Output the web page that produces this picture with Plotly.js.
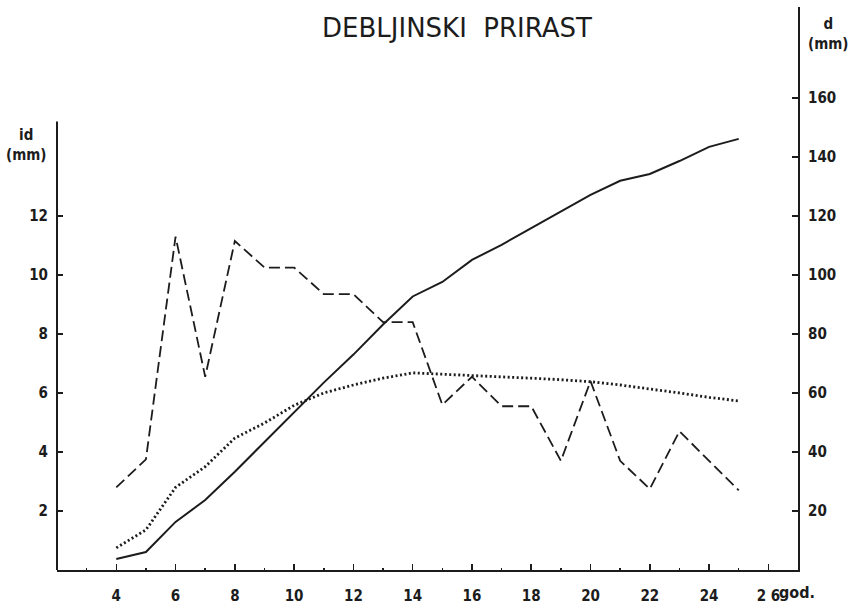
<!DOCTYPE html>
<html>
<head>
<meta charset="utf-8">
<script src="https://cdn.plot.ly/plotly-3.0.1.min.js"></script>
<style>html,body{margin:0;padding:0;background:#fff;}#chart{width:859px;height:608px;}</style>
</head>
<body>
<div id="chart"></div>
<script>
// Age (years)
const years = [4,5,6,7,8,9,10,11,12,13,14,15,16,17,18,19,20,21,22,23,24,25];
// Current diameter increment id (mm) - dashed, left axis
const currentIncrement = [2.8,3.75,11.3,6.55,11.15,10.25,10.25,9.35,9.35,8.4,8.4,5.6,6.55,5.55,5.55,3.7,6.4,3.7,2.75,4.7,3.7,2.7];
// Mean diameter increment id (mm) - dotted, left axis
const meanIncrement = [0.75,1.36,2.8,3.5,4.47,4.98,5.58,6.0,6.27,6.5,6.68,6.64,6.6,6.55,6.5,6.45,6.38,6.27,6.14,6.0,5.85,5.73];
// Diameter d (mm) - solid, right axis
const diameter = [3.7,6.1,16.3,23.7,33.3,43.4,53.4,63.5,73.0,83.2,92.7,97.6,105.1,110.2,115.9,121.4,127.1,131.9,134.2,138.6,143.4,146.1];
// Tick labels
const xTicks = [4,6,8,10,12,14,16,18,20,22,24,26];
const xTickText = ['4','6','8','10','12','14','16','18','20','22','24','2 6'];
const leftTicks = [2,4,6,8,10,12];
const rightTicks = [20,40,60,80,100,120,140,160];

const ink = '#1c1c1c';
const fam = 'DejaVu Sans Condensed, DejaVu Sans, sans-serif';
const tickFont = {family: fam, size: 15, color: ink, weight: 'bold'};

const traces = [
  {x: years, y: currentIncrement, type: 'scatter', mode: 'lines', yaxis: 'y',
   line: {color: ink, width: 1.8, dash: '11px,5px'}, hoverinfo: 'skip'},
  {x: years, y: meanIncrement, type: 'scatter', mode: 'lines', yaxis: 'y',
   line: {color: ink, width: 2.8, dash: '2px,2.5px'}, hoverinfo: 'skip'},
  {x: years, y: diameter, type: 'scatter', mode: 'lines', yaxis: 'y2',
   line: {color: ink, width: 2}, hoverinfo: 'skip'}
];

const layout = {
  width: 859, height: 608,
  margin: {l: 57, r: 61, t: 7, b: 38},
  paper_bgcolor: '#ffffff', plot_bgcolor: '#ffffff',
  showlegend: false,
  title: {text: 'DEBLJINSKI\u00a0\u00a0PRIRAST', x: 457/859, xref: 'container', xanchor: 'center',
          y: 1 - 28/608, yref: 'container', yanchor: 'middle',
          font: {family: 'DejaVu Sans, sans-serif', size: 26, color: ink}},
  xaxis: {range: [2, 27], tickvals: xTicks, ticktext: xTickText, ticks: 'inside', ticklen: 6, tickwidth: 1.5,
          tickcolor: ink, showline: true, linecolor: ink, linewidth: 2, showgrid: false, zeroline: false,
          tickfont: tickFont, ticklabelstandoff: 11,
          minor: {dtick: 1, tick0: 0, ticks: 'inside', ticklen: 2.5, tickwidth: 1.5, tickcolor: ink, showgrid: false}},
  yaxis: {range: [0, 19.08], tickvals: leftTicks, ticks: 'inside', ticklen: 6, tickwidth: 1.5, tickcolor: ink,
          showline: false, showgrid: false, zeroline: false, tickfont: tickFont, ticklabelstandoff: 8},
  yaxis2: {range: [0, 190.8], tickvals: rightTicks, overlaying: 'y', side: 'right', ticks: 'inside', ticklen: 6,
           tickwidth: 1.5, tickcolor: ink, showline: true, linecolor: ink, linewidth: 2, showgrid: false,
           zeroline: false, tickfont: tickFont, ticklabelstandoff: 5},
  shapes: [
    {type: 'line', xref: 'paper', yref: 'y', x0: 0, x1: 0, y0: 0, y1: 15.2, line: {color: ink, width: 2}}
  ],
  annotations: [
    {text: 'id<br>(mm)', xref: 'paper', yref: 'paper', x: -31/740, y: (570-145)/563, xanchor: 'center', yanchor: 'middle',
     showarrow: false, font: {family: fam, size: 15, color: ink, weight: 'bold'}},
    {text: 'd<br>(mm)', xref: 'paper', yref: 'paper', x: 1 + 30/740, y: (570-34)/563, xanchor: 'center', yanchor: 'middle',
     showarrow: false, font: {family: fam, size: 15, color: ink, weight: 'bold'}},
    {text: 'god.', xref: 'x', yref: 'paper', x: 26.3, y: -22/563, xanchor: 'left', yanchor: 'middle',
     showarrow: false, font: {family: fam, size: 16, color: ink, weight: 'bold'}}
  ]
};

Plotly.newPlot('chart', traces, layout, {displayModeBar: false, staticPlot: true});
</script>
</body>
</html>
